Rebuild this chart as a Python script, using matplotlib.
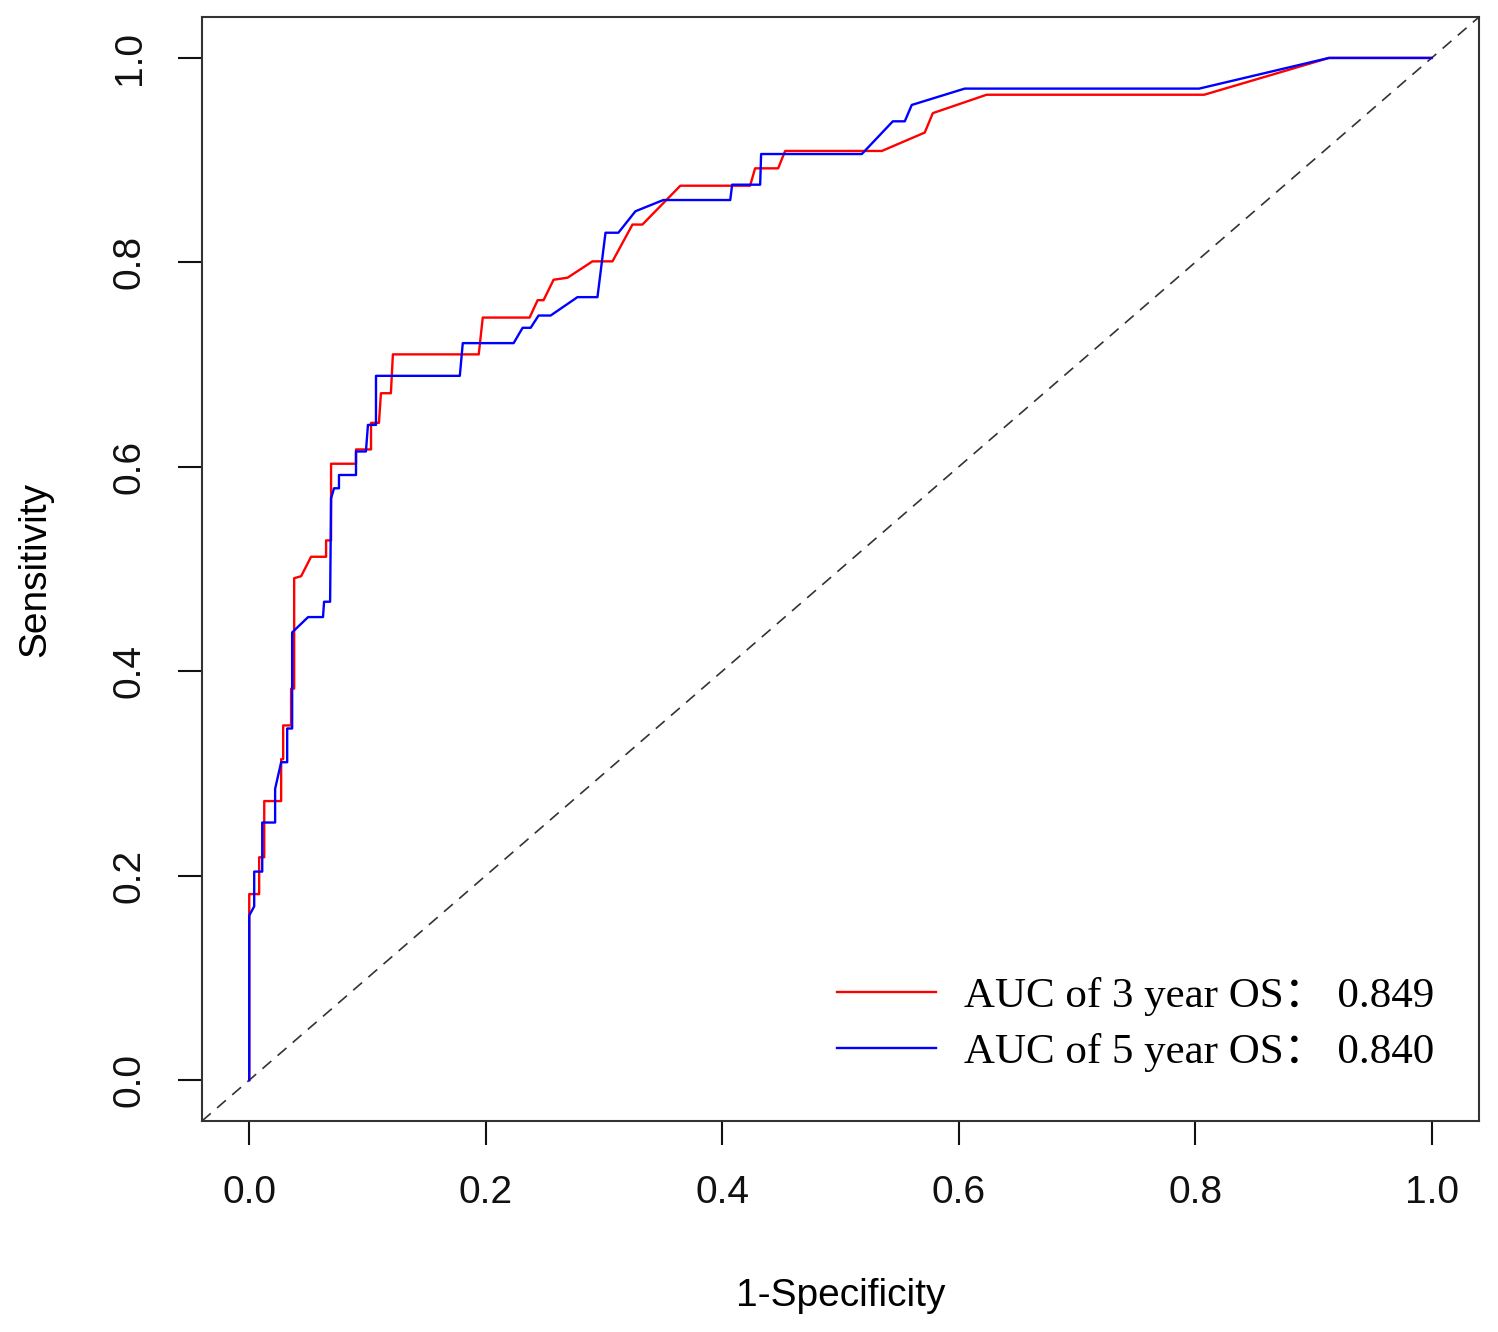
import numpy as np
import matplotlib.pyplot as plt

# ROC curve vertices (1-specificity, sensitivity)
fpr_3y = [0, 0, 0.0084, 0.0084, 0.0127, 0.0127, 0.0270, 0.0270, 0.0287, 0.0287,
          0.0354, 0.0354, 0.0380, 0.0380, 0.0439, 0.0523, 0.0650, 0.0650, 0.0692,
          0.0692, 0.0903, 0.0903, 0.1030, 0.1030, 0.1097, 0.1114, 0.1198, 0.1215,
          0.1941, 0.1975, 0.2371, 0.2439, 0.2489, 0.2574, 0.2692, 0.2903, 0.3072,
          0.3241, 0.3325, 0.3646, 0.4236, 0.4278, 0.4473, 0.4532, 0.5350, 0.5713,
          0.5781, 0.6236, 0.8076, 0.9131, 1.0]
tpr_3y = [0, 0.182, 0.182, 0.218, 0.218, 0.273, 0.273, 0.314, 0.314, 0.347,
          0.347, 0.383, 0.383, 0.491, 0.493, 0.512, 0.512, 0.528, 0.528,
          0.603, 0.603, 0.617, 0.617, 0.643, 0.643, 0.672, 0.672, 0.710,
          0.710, 0.746, 0.746, 0.763, 0.763, 0.783, 0.785, 0.801, 0.801,
          0.837, 0.837, 0.875, 0.875, 0.892, 0.892, 0.909, 0.909, 0.927,
          0.946, 0.964, 0.964, 1.0, 1.0]

fpr_5y = [0, 0, 0.0042, 0.0042, 0.0110, 0.0110, 0.0219, 0.0219, 0.0270, 0.0321,
          0.0321, 0.0363, 0.0363, 0.0498, 0.0624, 0.0633, 0.0684, 0.0692, 0.0717,
          0.0759, 0.0759, 0.0903, 0.0903, 0.0987, 0.1004, 0.1072, 0.1072, 0.1781,
          0.1806, 0.2236, 0.2312, 0.2380, 0.2447, 0.2549, 0.2776, 0.2945, 0.3013,
          0.3122, 0.3266, 0.3502, 0.4068, 0.4084, 0.4321, 0.4329, 0.5181, 0.5443,
          0.5544, 0.5603, 0.6051, 0.8034, 0.9131, 1.0]
tpr_5y = [0, 0.161, 0.170, 0.204, 0.204, 0.252, 0.252, 0.285, 0.311, 0.311,
          0.344, 0.344, 0.438, 0.453, 0.453, 0.468, 0.468, 0.569, 0.579,
          0.579, 0.592, 0.592, 0.615, 0.615, 0.641, 0.641, 0.689, 0.689,
          0.721, 0.721, 0.736, 0.736, 0.748, 0.748, 0.766, 0.766, 0.829,
          0.829, 0.850, 0.861, 0.861, 0.876, 0.876, 0.906, 0.906, 0.938,
          0.938, 0.954, 0.970, 0.970, 1.0, 1.0]

labels = ['AUC of 3 year OS\uff1a 0.849', 'AUC of 5 year OS\uff1a 0.840']
colors = ['#ff0000', '#0000ff']
ticks = [0.0, 0.2, 0.4, 0.6, 0.8, 1.0]

plt.rcParams['font.family'] = ['Liberation Sans', 'DejaVu Sans']

fig = plt.figure(figsize=(14.98, 13.32), dpi=100)
ax = fig.add_axes([0.1348, 0.1584, 0.8525, 0.8288])

lims = (-0.04, 1.04)
ax.plot(lims, lims, color='#333333', lw=1.2, ls=(0, (7, 5)))
ax.plot(fpr_3y, tpr_3y, color=colors[0], lw=1.7, label=labels[0])
ax.plot(fpr_5y, tpr_5y, color=colors[1], lw=1.7, label=labels[1])

ax.set_xlim(lims)
ax.set_ylim(lims)
ax.set_xticks(ticks)
ax.set_yticks(ticks)
ax.set_xticklabels([f'{t:.1f}' for t in ticks])
ax.set_yticklabels([f'{t:.1f}' for t in ticks], rotation=90, va='center')
ax.tick_params(length=17, width=1.5, labelsize=28, pad=22, colors='#111111')
for s in ax.spines.values():
    s.set_linewidth(1.5)
    s.set_color('#333333')

ax.set_xlabel('1-Specificity', fontsize=28, labelpad=48)
ax.set_ylabel('Sensitivity', fontsize=28, labelpad=42)

leg = ax.legend(loc='lower right', bbox_to_anchor=(0.965, 0.044), frameon=False,
                handlelength=2.3, handletextpad=0.65, labelspacing=0.41,
                borderaxespad=0, borderpad=0,
                prop={'family': ['Liberation Serif', 'Noto Sans CJK SC'], 'size': 31})

fig.savefig('out.png', dpi=100)
